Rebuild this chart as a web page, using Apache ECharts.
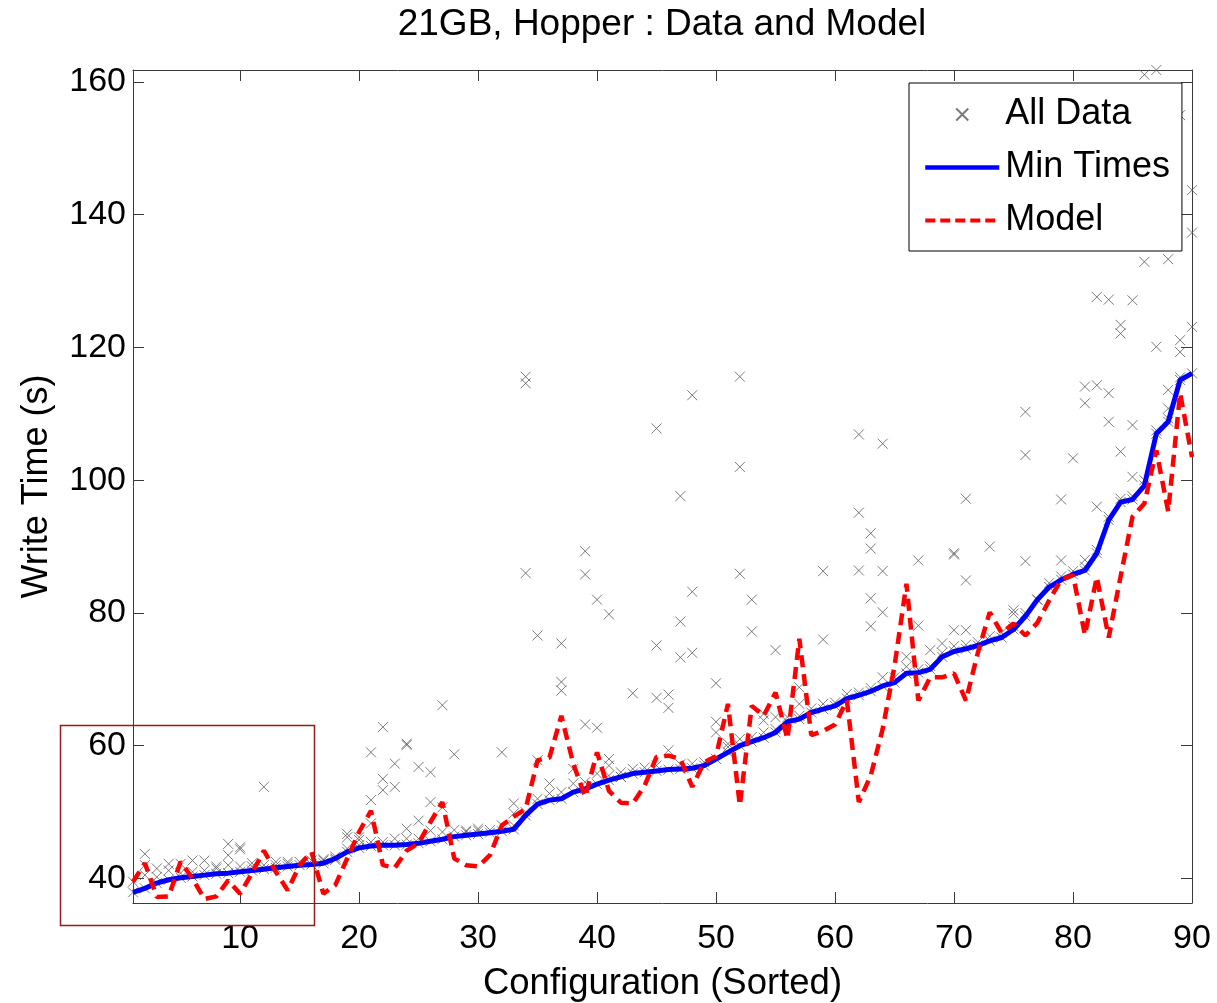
<!DOCTYPE html>
<html><head><meta charset="utf-8">
<script src="https://cdn.jsdelivr.net/npm/echarts@6/dist/echarts.min.js"></script>
<style>html,body{margin:0;padding:0;background:#fff}#c{width:1217px;height:1003px}</style>
</head><body><div id="c"></div>
<script>
const FONT = '"Liberation Sans", Arial, Helvetica, sans-serif';
const xTicks = [10, 20, 30, 40, 50, 60, 70, 80, 90];
const yTicks = [40, 60, 80, 100, 120, 140, 160];
const configurations = [1,2,3,4,5,6,7,8,9,10,11,12,13,14,15,16,17,18,19,20,21,22,23,24,25,26,27,28,29,30,
  31,32,33,34,35,36,37,38,39,40,41,42,43,44,45,46,47,48,49,50,51,52,53,54,55,56,57,58,59,60,
  61,62,63,64,65,66,67,68,69,70,71,72,73,74,75,76,77,78,79,80,81,82,83,84,85,86,87,88,89,90];
const minTimes = [37.9,38.5,39.3,39.8,40.1,40.3,40.5,40.7,40.8,41.0,41.2,41.4,41.6,41.8,42.0,42.1,42.3,43.0,44.0,44.6,
  44.9,45.0,45.0,45.1,45.3,45.6,45.9,46.3,46.5,46.7,46.9,47.1,47.4,49.5,51.2,51.8,52.0,53.0,53.5,54.2,
  54.8,55.3,55.8,56.0,56.2,56.4,56.5,56.6,57.0,58.0,59.0,60.0,60.6,61.2,62.0,63.6,64.0,65.0,65.5,66.0,
  67.1,67.6,68.2,69.0,69.5,70.9,71.0,71.5,73.4,74.2,74.6,75.1,75.8,76.3,77.5,79.5,82.0,83.9,85.0,85.8,
  86.4,89.0,94.0,96.7,97.1,99.2,107.0,108.8,115.1,116.1];
const modelTimes = [39.5,42.3,37.2,37.3,42.5,40.0,36.9,37.3,39.7,37.7,40.8,44.2,41.0,38.2,42.0,44.0,37.7,39.0,43.0,47.0,
  50.2,42.0,41.6,44.2,45.3,48.5,51.5,43.0,42.0,41.8,43.5,48.0,49.3,50.5,57.8,58.2,64.5,57.3,52.3,59.0,
  53.2,51.4,51.3,54.0,58.3,58.5,58.0,53.8,57.5,58.4,66.3,51.0,66.0,64.5,68.0,61.0,76.1,61.6,62.2,63.2,
  66.8,51.5,55.5,62.5,72.0,84.4,66.8,70.3,70.3,70.9,66.8,74.0,80.1,77.0,78.4,76.6,78.5,81.9,85.0,85.7,
  76.7,85.4,76.3,85.5,94.5,96.5,104.5,95.3,113.1,103.5];
// other measured runs per configuration (besides the minimum)
const otherRuns = [
  [39.5],[43.7,42.0,40.5],[40.2,41.5],[42.2,41.2],[42.2,40.8],[42.7,41.0],[42.7,41.2],[41.5,41.8],[45.2,43.5,42.0],[44.7,44.4,41.8],
  [41.8,42.3],[53.8,42.0],[42.5,42.0],[42.5,42.2],[42.5],[42.7],[42.7,42.9],[43.3,42.8],[46.7,46.2,44.5],[46.2,45.0,45.8],
  [59.0,51.8,48.3,45.5],[62.8,55.0,53.3,45.5],[57.3,53.8,46.0],[60.3,60.1,47.5,46.0],[56.8,48.7,46.0],[56.0,51.5,47.2],[66.1,50.7,47.0],[58.7,47.3],[47.2,47.0],[47.2,47.5],
  [47.3],[59.0,48.0],[51.3,49.8,48.0],[115.6,114.6,86.0,50.0],[76.6,57.8,52.0],[54.3,52.8],[75.4,69.6,68.3,53.0],[56.5,54.3],[89.3,85.8,63.2,54.5],[82.0,62.7,55.8],
  [79.8,58.0,57.0,55.5],[55.3,56.0],[67.9,56.5],[56.7],[107.8,75.1,67.2,57.0],[67.7,65.7,59.3],[97.6,78.7,73.3,57.2],[112.8,83.2,74.0,57.3],[57.5],[69.4,63.6,62.0],
  [60.3,59.8],[115.6,102.0,85.9,61.0],[82.0,77.2,61.3],[64.8,63.8,62.0],[74.4,64.3,62.5],[64.3],[68.8,66.3,64.5],[65.6],[86.3,76.0,66.3],[66.5],
  [67.8],[106.9,95.1,86.4,68.0],[92.0,89.7,82.2,78.0,68.7],[105.5,86.3,80.1,70.3],[70.3],[73.4,71.9],[87.9,78.1,71.5],[74.4,72.0],[75.4,74.0],[89.0,88.8,77.4,75.0],
  [97.2,84.9,77.4,75.2],[75.6],[90.0,76.5],[77.0],[80.4,79.9,78.0],[110.3,103.8,87.8,80.0],[82.0],[84.5],[97.1,87.9,85.5],[103.3,86.3],
  [114.1,111.6,88.0,87.0],[127.6,114.3,96.0,89.5],[127.2,113.1,108.8,94.5],[123.4,122.1,104.3,97.2],[127.1,108.3,100.5,97.6],[161.1,132.9,100.0],[161.8,120.1,107.5],[133.3,113.6,110.8,109.3],[155.0,121.1,119.3,115.5],[143.7,137.3,123.1]
];

const scatterData = [];
configurations.forEach((c, i) => {
  scatterData.push([c, minTimes[i]]);
  otherRuns[i].forEach(v => scatterData.push([c, v]));
});
const minData = configurations.map((c, i) => [c, minTimes[i]]);
const modelData = configurations.map((c, i) => [c, modelTimes[i]]);

const axisColor = '#3a3a3a';
const noSymbol = {color: 'rgba(0,0,0,0)', borderWidth: 0, opacity: 0};
const chart = echarts.init(document.getElementById('c'), null, {renderer: 'canvas'});
chart.setOption({
  animation: false,
  backgroundColor: '#fff',
  title: {
    text: '21GB, Hopper : Data and Model',
    left: 657, top: 1, textAlign: 'center',
    textStyle: {fontFamily: FONT, fontSize: 37, fontWeight: 'normal', color: '#000'}
  },
  grid: {left: 133, right: 25, top: 70, bottom: 100, containLabel: false, outerBoundsMode: 'none'},
  legend: {
    orient: 'vertical', left: 909, top: 83,
    padding: [8.5, 12, 7.5, 14], itemGap: 7, itemWidth: 74, itemHeight: 12,
    backgroundColor: '#fff', borderColor: '#000', borderWidth: 1,
    textStyle: {fontFamily: FONT, fontSize: 36, color: '#000', lineHeight: 40, padding: [6, 0, 0, 1]},
    data: [
      {name: 'All Data'},
      {name: 'Min Times', itemStyle: noSymbol, lineStyle: {width: 4.5, color: '#0000ff'}},
      {name: 'Model', itemStyle: noSymbol, lineStyle: {width: 4, color: '#ff0000', type: [10, 5]}}
    ]
  },
  xAxis: [{
    type: 'value', min: 1, max: 90, position: 'bottom',
    name: 'Configuration (Sorted)', nameLocation: 'middle', nameGap: 62,
    nameTextStyle: {fontFamily: FONT, fontSize: 36.5, color: '#000'},
    axisLine: {show: true, lineStyle: {color: axisColor, width: 1}},
    axisTick: {show: true, inside: true, length: 11, customValues: xTicks, lineStyle: {color: axisColor}},
    axisLabel: {customValues: xTicks, fontFamily: FONT, fontSize: 34, color: '#000', margin: 19},
    splitLine: {show: false}
  }, {
    type: 'value', min: 1, max: 90, position: 'top',
    axisLine: {show: true, lineStyle: {color: axisColor, width: 1}},
    axisTick: {show: true, inside: true, length: 11, customValues: xTicks, lineStyle: {color: axisColor}},
    axisLabel: {show: false}, splitLine: {show: false}
  }],
  yAxis: [{
    type: 'value', min: 36.3, max: 161.8, position: 'left',
    name: 'Write Time (s)', nameLocation: 'middle', nameGap: 78,
    nameTextStyle: {fontFamily: FONT, fontSize: 36, color: '#000'},
    axisLine: {show: true, lineStyle: {color: axisColor, width: 1}},
    axisTick: {show: true, inside: true, length: 11, customValues: yTicks, lineStyle: {color: axisColor}},
    axisLabel: {customValues: yTicks, fontFamily: FONT, fontSize: 34, color: '#000', margin: 7},
    splitLine: {show: false}
  }, {
    type: 'value', min: 36.3, max: 161.8, position: 'right',
    axisLine: {show: true, lineStyle: {color: axisColor, width: 1}},
    axisTick: {show: true, inside: true, length: 11, customValues: yTicks, lineStyle: {color: axisColor}},
    axisLabel: {show: false}, splitLine: {show: false}
  }],
  series: [{
    name: 'All Data', type: 'scatter', data: scatterData, clip: false,
    symbol: 'path://M0,0L10,10M10,0L0,10', symbolSize: 10,
    itemStyle: {color: 'rgba(0,0,0,0)', borderColor: '#5a5a5a', borderWidth: 1},
    emphasis: {disabled: true}, z: 2
  }, {
    name: 'Min Times', type: 'line', data: minData, symbol: 'none', showSymbol: false,
    lineStyle: {color: '#0000ff', width: 5}, itemStyle: {color: '#0000ff'},
    emphasis: {disabled: true}, z: 3
  }, {
    name: 'Model', type: 'line', data: modelData, symbol: 'none', showSymbol: false,
    lineStyle: {color: '#ff0000', width: 4.5, type: [12, 7]}, itemStyle: {color: '#ff0000'},
    emphasis: {disabled: true}, z: 4
  }],
  graphic: [{
    type: 'rect', z: 10, silent: true,
    shape: {x: 60.5, y: 725.5, width: 254, height: 200},
    style: {fill: 'none', stroke: '#9a1a1a', lineWidth: 1.5}
  }]
});
</script></body></html>
